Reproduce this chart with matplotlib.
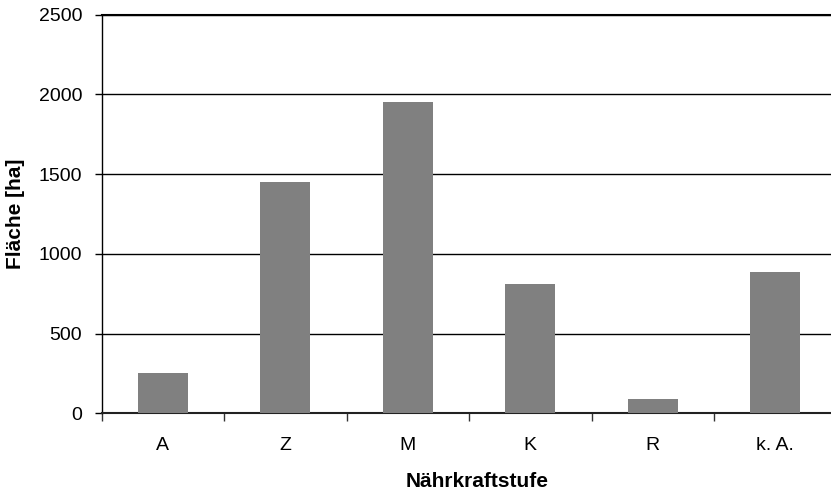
import numpy as np
import matplotlib
matplotlib.use('Agg')
import matplotlib.pyplot as plt

# Daten
kategorien = ['A', 'Z', 'M', 'K', 'R', 'k. A.']
flaeche = [250, 1450, 1950, 810, 90, 885]
y_ticks = [0, 500, 1000, 1500, 2000, 2500]

plt.rcParams['font.family'] = ['Liberation Sans', 'DejaVu Sans']

fig = plt.figure(figsize=(8.31, 4.97), dpi=100)
# Achse reicht rechts etwas über den Bildrand hinaus (wie im Original)
ax = fig.add_axes([101.5 / 831, 83.7 / 497, 735 / 831, 398.6 / 497])

x = np.arange(len(kategorien))
ax.bar(x, flaeche, width=0.41, color='#808080', zorder=3)

ax.set_xlim(-0.5, len(kategorien) - 0.5)
ax.set_ylim(0, 2500)
ax.set_yticks(y_ticks)
ax.yaxis.grid(True, color='black', linewidth=1.0, zorder=1)

# Kategorien mittig, Striche zwischen den Kategorien
ax.set_xticks(x)
ax.set_xticklabels(kategorien, fontsize=14)
ax.tick_params(axis='x', which='major', length=0, pad=17)
ax.set_xticks(np.arange(-0.5, len(kategorien)), minor=True)
ax.tick_params(axis='x', which='minor', length=6, width=1, direction='out', color='#333333')
ax.tick_params(axis='y', length=5, width=1, direction='out', pad=9, labelsize=14)

ax.spines['right'].set_visible(False)
ax.spines['top'].set_linewidth(1.5)
ax.spines['left'].set_linewidth(1.0)
ax.spines['bottom'].set_linewidth(1.5)
ax.spines['bottom'].set_color('#222222')

ax.set_xlabel('Nährkraftstufe', fontsize=15, fontweight='bold')
ax.set_ylabel('Fläche [ha]', fontsize=15, fontweight='bold')
ax.xaxis.set_label_coords(376 / 735, -(472 - 413.3) / 398.6)
ax.yaxis.set_label_coords(-(101.5 - 25) / 735, 0.5)

fig.savefig('out.png', dpi=100)
